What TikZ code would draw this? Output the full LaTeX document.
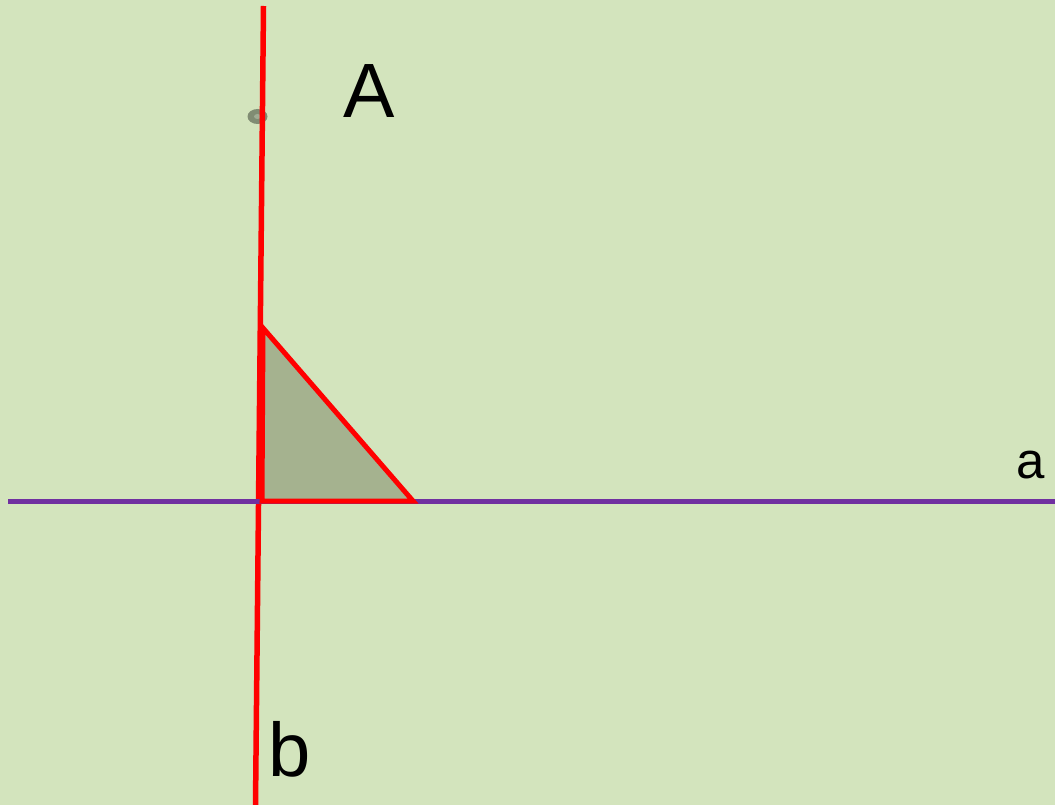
\documentclass[tikz,border=0pt]{standalone}
\usepackage{fontspec}
\setmainfont{Liberation Sans}
\definecolor{bgc}{RGB}{211,228,189}
\definecolor{trif}{RGB}{165,178,143}
\definecolor{ptc}{RGB}{128,140,115}
\definecolor{pth}{RGB}{160,172,148}
\definecolor{purp}{RGB}{112,48,160}
\definecolor{redl}{RGB}{255,0,0}
\tikzset{
  lbl/.style={anchor=base, inner sep=0pt, text=black},
  redline/.style={draw=redl, line width=5.5pt},
  purpline/.style={draw=purp, line width=5.5pt},
}
\begin{document}
\begin{tikzpicture}[x=1pt,y=-1pt]
\fill[bgc] (0,0) rectangle (1055,805);
\useasboundingbox (0,0) rectangle (1055,805);
% point A
\fill[ptc] (257.5,116.5) ellipse [x radius=10, y radius=7.5];
\fill[pth] (257.5,116.5) ellipse [x radius=3.5, y radius=2.5];
% line b
\coordinate (btop) at (263.5,6);
\coordinate (bbot) at (255.5,805);
\draw[redline] (btop) -- (bbot);
% line a
\coordinate (aleft) at (8,501.5);
\coordinate (aright) at (1055,501.5);
\draw[purpline] (aleft) -- (aright);
% triangle
\coordinate (t1) at (263,328);
\coordinate (t2) at (262,501);
\coordinate (t3) at (413,501);
\filldraw[fill=trif, draw=redl, line width=5pt, line join=miter] (t1) -- (t2) -- (t3) -- cycle;
% labels
\node[lbl, font=\fontsize{77}{77}\selectfont] (lA) at (369,118) {A};
\node[lbl, font=\fontsize{51}{51}\selectfont] (la) at (1030.5,478) {a};
\node[lbl, font=\fontsize{76}{76}\selectfont] (lb) at (289.5,776) {b};
\end{tikzpicture}
\end{document}
